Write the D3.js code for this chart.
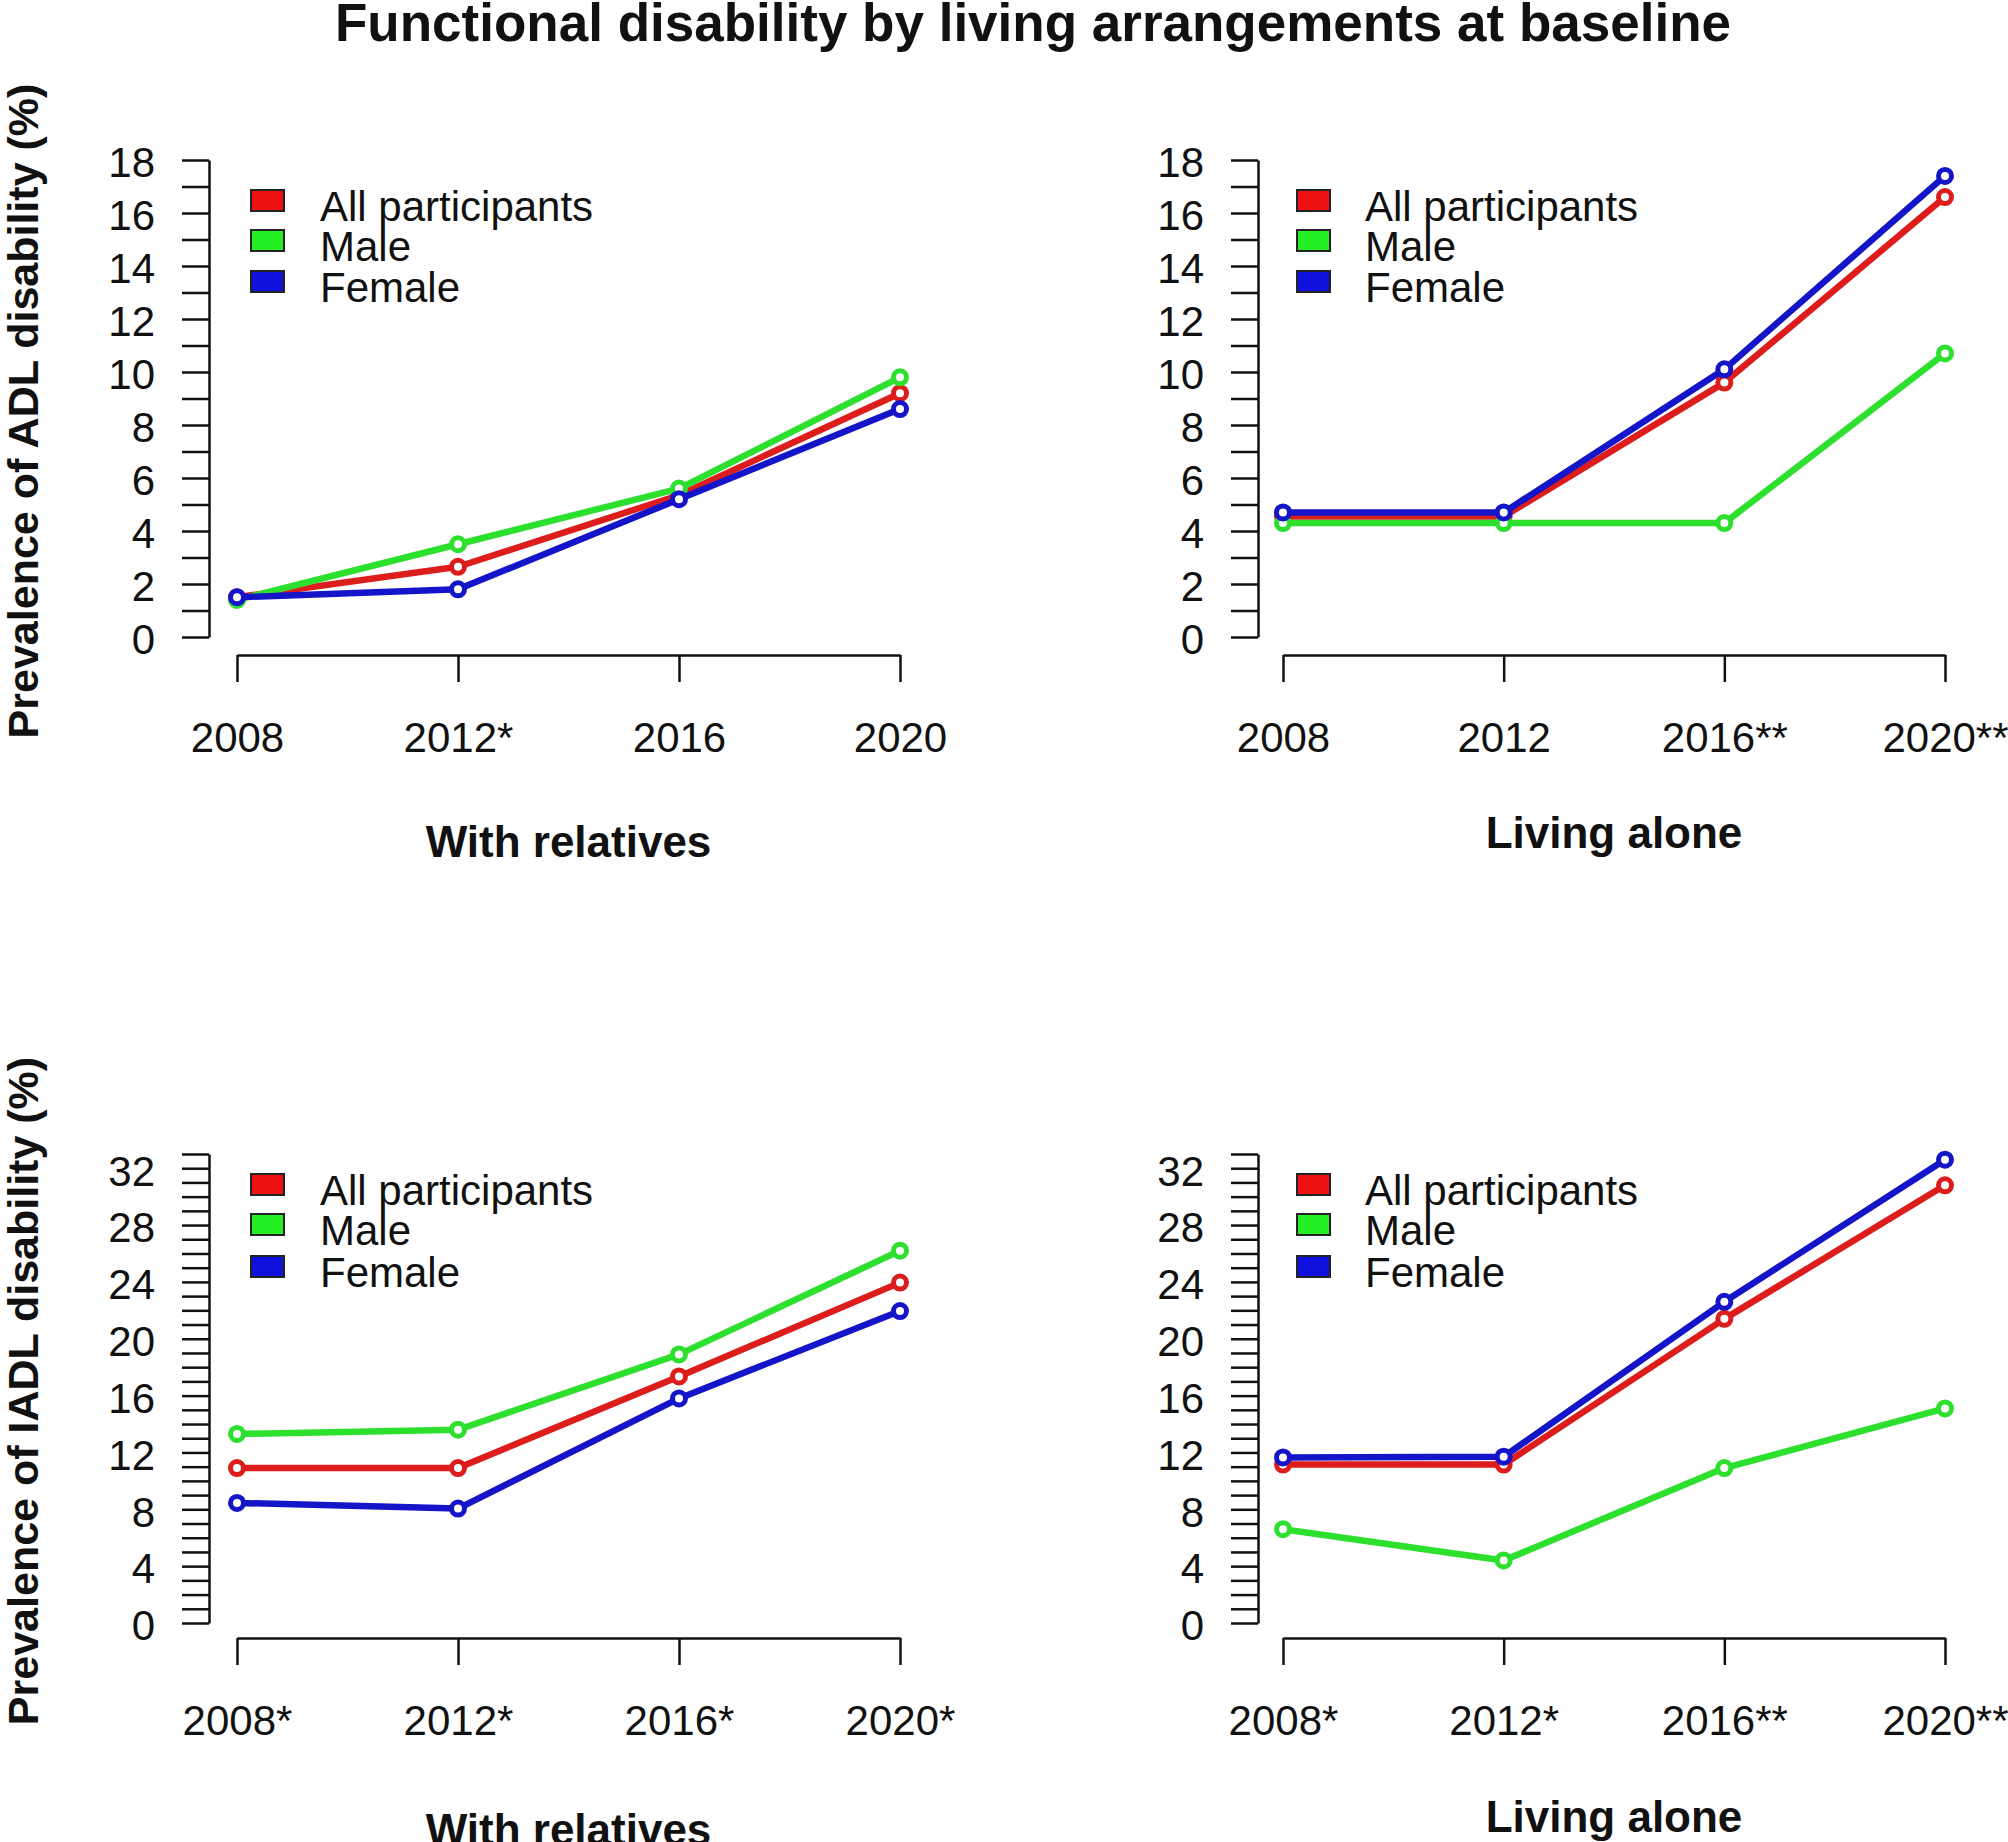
<!DOCTYPE html>
<html>
<head>
<meta charset="utf-8">
<script src="https://cdn.jsdelivr.net/npm/d3@7"></script>
<style>
  html, body { margin: 0; padding: 0; background: #fff; }
  svg { display: block; }
  text { font-family: "Liberation Sans", Arial, sans-serif; fill: #111; }
</style>
</head>
<body>
<svg id="chart" width="2008" height="1842"></svg>
<script>
// ---------- DATA ----------
const chartTitle = "Functional disability by living arrangements at baseline";
const seriesNames = ["All participants", "Male", "Female"];
const seriesColors = ["#dd1c1c", "#2ee02e", "#1414c8"];
const legendColors = ["#ee1111", "#22ee22", "#1111dd"];

const adlTicks = [0, 1, 2, 3, 4, 5, 6, 7, 8, 9, 10, 11, 12, 13, 14, 15, 16, 17, 18];
const adlTickLabels = [0, 2, 4, 6, 8, 10, 12, 14, 16, 18];
const iadlTicks = d3.range(0, 34);
const iadlTickLabels = [0, 4, 8, 12, 16, 20, 24, 28, 32];

const adlRelYears = ["2008", "2012*", "2016", "2020"];
const adlAloneYears = ["2008", "2012", "2016**", "2020**"];
const iadlRelYears = ["2008*", "2012*", "2016*", "2020*"];
const iadlAloneYears = ["2008*", "2012*", "2016**", "2020**"];

const adlRelAll = [1.5, 2.65, 5.35, 9.2];
const adlRelMale = [1.4, 3.5, 5.6, 9.8];
const adlRelFemale = [1.5, 1.8, 5.2, 8.6];

const adlAloneAll = [4.55, 4.55, 9.6, 16.6];
const adlAloneMale = [4.3, 4.3, 4.3, 10.7];
const adlAloneFemale = [4.7, 4.7, 10.1, 17.4];

const iadlRelAll = [10.9, 10.9, 17.35, 23.95];
const iadlRelMale = [13.3, 13.6, 18.9, 26.2];
const iadlRelFemale = [8.45, 8.05, 15.8, 21.95];

const iadlAloneAll = [11.15, 11.15, 21.4, 30.8];
const iadlAloneMale = [6.6, 4.4, 10.9, 15.1];
const iadlAloneFemale = [11.65, 11.7, 22.6, 32.6];

const yLabelADL = "Prevalence of ADL disability (%)";
const yLabelIADL = "Prevalence of IADL disability (%)";

// ---------- LAYOUT ----------
const panels = [
  { years: adlRelYears, series: [adlRelAll, adlRelMale, adlRelFemale], xlab: "With relatives",
    axisX: 209, yRange: [637, 160], yDomain: [0, 18], ticks: adlTicks, labels: adlTickLabels,
    xRange: [237, 900], xAxisY: 655, xlabY: 857, legSq: 251, legTx: 320, legBase: [221, 261, 302] },
  { years: adlAloneYears, series: [adlAloneAll, adlAloneMale, adlAloneFemale], xlab: "Living alone",
    axisX: 1258, yRange: [637, 160], yDomain: [0, 18], ticks: adlTicks, labels: adlTickLabels,
    xRange: [1283, 1945], xAxisY: 655, xlabY: 848, legSq: 1297, legTx: 1365, legBase: [221, 261, 302] },
  { years: iadlRelYears, series: [iadlRelAll, iadlRelMale, iadlRelFemale], xlab: "With relatives",
    axisX: 209, yRange: [1623, 1154], yDomain: [0, 33], ticks: iadlTicks, labels: iadlTickLabels,
    xRange: [237, 900], xAxisY: 1638, xlabY: 1845, legSq: 251, legTx: 320, legBase: [1205, 1245, 1287] },
  { years: iadlAloneYears, series: [iadlAloneAll, iadlAloneMale, iadlAloneFemale], xlab: "Living alone",
    axisX: 1258, yRange: [1623, 1154], yDomain: [0, 33], ticks: iadlTicks, labels: iadlTickLabels,
    xRange: [1283, 1945], xAxisY: 1638, xlabY: 1832, legSq: 1297, legTx: 1365, legBase: [1205, 1245, 1287] }
];

const svg = d3.select("#chart");

// Title
svg.append("text")
  .attr("x", 1033).attr("y", 41)
  .attr("text-anchor", "middle")
  .style("font-size", "53px").style("font-weight", "bold")
  .text(chartTitle);

// Y labels
[[yLabelADL, 411], [yLabelIADL, 1391]].forEach(([t, cy]) => {
  svg.append("text")
    .attr("transform", `translate(38,${cy}) rotate(-90)`)
    .attr("text-anchor", "middle")
    .style("font-size", "43px").style("font-weight", "bold")
    .text(t);
});

panels.forEach(p => {
  const g = svg.append("g");
  const y = d3.scaleLinear().domain(p.yDomain).range(p.yRange);
  const x = d3.scalePoint().domain(d3.range(p.years.length)).range(p.xRange);

  // Y axis
  const yAxis = d3.axisLeft(y)
    .tickValues(p.ticks)
    .tickSize(27).tickSizeOuter(0).tickPadding(27)
    .tickFormat(d => p.labels.includes(d) ? d : "");
  const ya = g.append("g").attr("transform", `translate(${p.axisX},0)`).call(yAxis);
  ya.selectAll("path, line").attr("stroke", "#111").attr("stroke-width", 2.5);
  ya.selectAll("text").style("font-size", "42px").attr("fill", "#111").attr("dy", "0.4em")
    .style("font-family", "'Liberation Sans', Arial, sans-serif");

  // X axis
  const xAxis = d3.axisBottom(x)
    .tickSize(27).tickSizeOuter(0).tickPadding(40)
    .tickFormat(i => p.years[i]);
  const xa = g.append("g").attr("transform", `translate(0,${p.xAxisY})`).call(xAxis);
  xa.selectAll("path, line").attr("stroke", "#111").attr("stroke-width", 2.5);
  xa.selectAll("text").style("font-size", "42px").attr("fill", "#111")
    .style("font-family", "'Liberation Sans', Arial, sans-serif");

  // X label
  g.append("text")
    .attr("x", (p.xRange[0] + p.xRange[1]) / 2).attr("y", p.xlabY)
    .attr("text-anchor", "middle")
    .style("font-size", "44px").style("font-weight", "bold")
    .text(p.xlab);

  // Lines
  const line = d3.line().x((d, i) => x(i)).y(d => y(d));
  p.series.forEach((s, k) => {
    g.append("path").datum(s)
      .attr("d", line)
      .attr("fill", "none")
      .attr("stroke", seriesColors[k])
      .attr("stroke-width", 6.5)
      .attr("stroke-linejoin", "round");
    g.selectAll(null).data(s).enter().append("circle")
      .attr("cx", (d, i) => x(i)).attr("cy", d => y(d))
      .attr("r", 6.5)
      .attr("fill", "#fff")
      .attr("stroke", seriesColors[k])
      .attr("stroke-width", 5);
  });

  // Legend
  seriesNames.forEach((name, k) => {
    g.append("rect")
      .attr("x", p.legSq).attr("y", p.legBase[k] - 31)
      .attr("width", 33).attr("height", 21)
      .attr("fill", legendColors[k])
      .attr("stroke", "#222").attr("stroke-width", 2);
    g.append("text")
      .attr("x", p.legTx).attr("y", p.legBase[k])
      .style("font-size", "42px")
      .text(name);
  });
});
</script>
</body>
</html>
